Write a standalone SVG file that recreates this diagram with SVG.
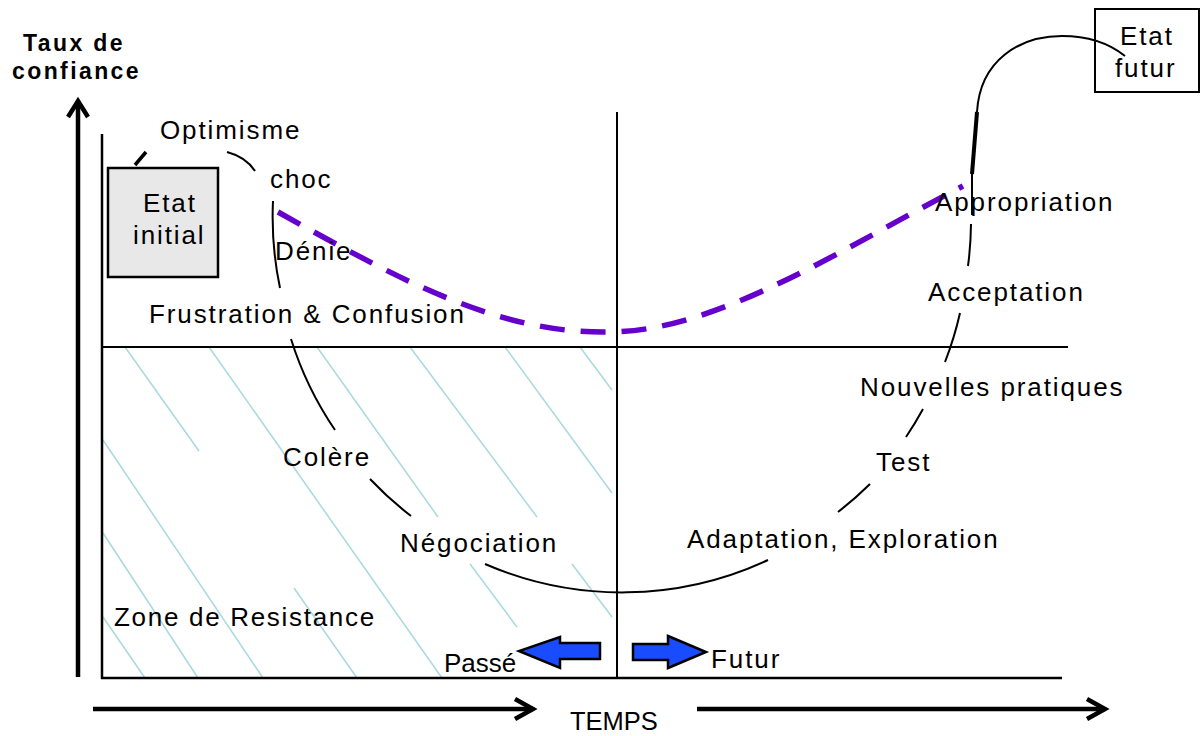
<svg xmlns="http://www.w3.org/2000/svg" width="1201" height="736" viewBox="0 0 1201 736">
<style>
  .t { font-family: "Liberation Sans", Arial, sans-serif; font-size: 26px; letter-spacing: 1.9px; fill: #000; }
  .tb { font-family: "Liberation Sans", Arial, sans-serif; font-size: 23px; font-weight: bold; letter-spacing: 2.4px; fill: #000; }
  .frame { stroke: #000; stroke-width: 2.5; fill: none; }
  .thin { stroke: #000; stroke-width: 2; fill: none; }
  .axis { stroke: #000; stroke-width: 4.5; fill: none; stroke-linecap: butt; }
  .hatch { stroke: #a9d9dc; stroke-width: 1.5; fill: none; }
  .curve { stroke: #000; stroke-width: 2; fill: none; }
  .blue { fill: #1a4cff; stroke: #000; stroke-width: 2.5; stroke-linejoin: miter; }
</style>

<!-- hatch -->
<g id="hatch">
  <line class="hatch" x1="125" y1="347" x2="199" y2="451"/>
  <line class="hatch" x1="294" y1="588" x2="357" y2="678"/>
  <line class="hatch" x1="209" y1="347" x2="442" y2="678"/>
  <line class="hatch" x1="317" y1="347" x2="438" y2="517"/>
  <line class="hatch" x1="470" y1="564" x2="517" y2="627"/>
  <line class="hatch" x1="410" y1="347" x2="537" y2="517"/>
  <line class="hatch" x1="572" y1="564" x2="612" y2="617"/>
  <line class="hatch" x1="505" y1="347" x2="612" y2="493"/>
  <line class="hatch" x1="580" y1="347" x2="612" y2="390"/>
  <line class="hatch" x1="103" y1="440" x2="263" y2="678"/>
  <line class="hatch" x1="103" y1="533" x2="198" y2="678"/>
  <line class="hatch" x1="103" y1="617" x2="145" y2="678"/>
</g>

<!-- frame -->
<g id="frame">
  <line class="frame" x1="102" y1="134" x2="102" y2="679"/>
  <line class="frame" x1="101" y1="678" x2="1062" y2="678"/>
  <line class="thin" x1="102" y1="347" x2="1068" y2="347"/>
  <line class="thin" x1="617" y1="112" x2="617" y2="678"/>
</g>

<!-- axes -->
<g id="axes">
  <line class="axis" x1="78" y1="677" x2="78" y2="102"/>
  <polyline class="axis" points="68,117 78,101 88,117"/>
  <line class="axis" x1="93" y1="709" x2="533" y2="709"/>
  <polyline class="axis" points="515,699 533,709 515,719"/>
  <line class="axis" x1="697" y1="709" x2="1105" y2="709"/>
  <polyline class="axis" points="1087,699 1105,709 1087,719"/>
  <text class="t" x="570" y="730" style="letter-spacing:0; font-size:25.5px">TEMPS</text>
</g>

<g id="y-label">
  <text class="tb" x="23" y="51">Taux de</text>
  <text class="tb" x="12" y="79">confiance</text>
</g>

<!-- connectors -->
<g id="connectors">
  <line x1="135" y1="165" x2="146" y2="152" stroke="#000" stroke-width="3.5"/>
  <path class="curve" d="M227,152 Q246,157 255,171"/>
  <path class="curve" d="M273,201 A345,345 0 0 0 280,288"/>
  <path class="curve" d="M291,339 A345,345 0 0 0 335,430"/>
  <path class="curve" d="M370,479 A345,345 0 0 0 411,516"/>
  <path class="curve" d="M485,564 A345,345 0 0 0 768,560"/>
  <path class="curve" d="M838,512 A345,345 0 0 0 870,484"/>
  <path class="curve" d="M906,437 A345,345 0 0 0 923,409"/>
  <path class="curve" d="M945,362 A345,345 0 0 0 960,313"/>
  <path class="curve" d="M968,266 A345,345 0 0 0 971,224"/>
  <line class="curve" x1="972" y1="215" x2="972" y2="173"/>
  <line x1="972" y1="174" x2="977" y2="112" stroke="#000" stroke-width="4"/>
  <path class="curve" d="M977,112 C980,60 1020,36 1062,36 C1090,36 1110,44 1125,56"/>
  <path d="M278,212 C400,280 500,335 612,332 C720,330 845,247 963,186" fill="none" stroke="#6600cc" stroke-width="5.5" stroke-dasharray="25 16"/>
</g>

<!-- nodes -->
<g id="etat-initial">
  <rect x="108" y="168" width="110" height="109" fill="#e8e8e8" stroke="#000" stroke-width="2.5"/>
  <text class="t" x="143" y="212">Etat</text>
  <text class="t" x="133" y="244">initial</text>
</g>

<g id="etat-futur">
  <rect x="1095" y="9" width="104" height="83" fill="none" stroke="#000" stroke-width="2"/>
  <text class="t" x="1120" y="45">Etat</text>
  <text class="t" x="1115" y="77">futur</text>
</g>

<g id="stages">
  <text class="t" x="160" y="139">Optimisme</text>
  <text class="t" x="270" y="188">choc</text>
  <text class="t" x="275" y="260">Dénie</text>
  <text class="t" x="149" y="323">Frustration &amp; Confusion</text>
  <text class="t" x="283" y="466">Colère</text>
  <text class="t" x="400" y="552">Négociation</text>
  <text class="t" x="687" y="548">Adaptation, Exploration</text>
  <text class="t" x="876" y="471">Test</text>
  <text class="t" x="860" y="396">Nouvelles pratiques</text>
  <text class="t" x="928" y="301">Acceptation</text>
  <text class="t" x="935" y="211">Appropriation</text>
  <text class="t" x="114" y="626" style="letter-spacing:1.7px">Zone de Resistance</text>
</g>

<g id="passe">
  <polygon class="blue" points="600,643 560,643 560,637 519,651 560,668 560,659 600,659"/>
  <text class="t" x="444" y="672" style="letter-spacing:0">Passé</text>
</g>

<g id="futur">
  <polygon class="blue" points="633,644 668,644 668,636 706,652 668,668 668,660 633,660"/>
  <text class="t" x="711" y="668">Futur</text>
</g>
</svg>
